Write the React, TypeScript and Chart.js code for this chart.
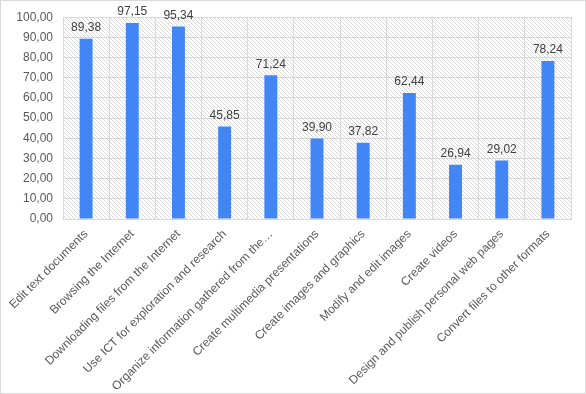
import React, { useEffect, useRef } from "react";
import { Chart, registerables } from "chart.js";

Chart.register(...registerables);

const categories = [
  "Edit text documents",
  "Browsing the Internet",
  "Downloading files from the Internet",
  "Use ICT for exploration and research",
  "Organize information gathered from the…",
  "Create multimedia presentations",
  "Create images and graphics",
  "Modify and edit images",
  "Create videos",
  "Design and publish personal web pages",
  "Convert files to other formats",
];
const values = [89.38, 97.15, 95.34, 45.85, 71.24, 39.9, 37.82, 62.44, 26.94, 29.02, 78.24];

const FONT = "'Liberation Sans', Arial, sans-serif";
const fmt = (v: number) => v.toFixed(2).replace(".", ",");

function makePattern(): CanvasPattern | string {
  const c = document.createElement("canvas");
  c.width = 4;
  c.height = 4;
  const g = c.getContext("2d");
  if (!g) return "#fff";
  g.fillStyle = "#ffffff";
  g.fillRect(0, 0, 4, 4);
  g.fillStyle = "#dadada";
  for (let i = 0; i < 4; i++) g.fillRect(i, i, 1, 1);
  const p = g.createPattern(c, "repeat");
  return p || "#fff";
}

export default function App() {
  const ref = useRef<HTMLCanvasElement>(null);
  useEffect(() => {
    document.body.style.margin = "0";
    const ctx = ref.current!.getContext("2d")!;
    const pattern = makePattern();
    const bgPlugin = {
      id: "bg",
      beforeDraw(chart: any) {
        const { ctx, chartArea: a, width, height } = chart;
        ctx.save();
        ctx.fillStyle = "#fff";
        ctx.fillRect(0, 0, width, height);
        ctx.fillStyle = pattern;
        ctx.fillRect(a.left, a.top, a.right - a.left, a.bottom - a.top);
        ctx.strokeStyle = "#d9d9d9";
        ctx.lineWidth = 1;
        ctx.strokeRect(0.5, 0.5, width - 1, height - 1);
        ctx.restore();
      },
    };
    const labelPlugin = {
      id: "labels",
      afterDatasetsDraw(chart: any) {
        const { ctx } = chart;
        const meta = chart.getDatasetMeta(0);
        ctx.save();
        ctx.font = `12px ${FONT}`;
        ctx.fillStyle = "#404040";
        ctx.textAlign = "center";
        ctx.textBaseline = "bottom";
        meta.data.forEach((el: any, i: number) => {
          ctx.fillText(fmt(values[i]), el.x, el.y - 5);
        });
        ctx.restore();
      },
    };
    const chart = new Chart(ctx, {
      type: "bar",
      data: {
        labels: categories,
        datasets: [
          {
            data: values,
            backgroundColor: "#4285f4",
            barPercentage: 0.28,
            categoryPercentage: 1,
          },
        ],
      },
      options: {
        animation: false,
        responsive: false,
        maintainAspectRatio: false,
        layout: { padding: { top: 15, right: 15, left: 0, bottom: 0 } },
        plugins: { legend: { display: false }, tooltip: { enabled: false } },
        scales: {
          x: {
            grid: { color: "#d9d9d9", drawTicks: false, offset: true },
            border: { color: "#d9d9d9" },
            ticks: {
              color: "#595959",
              font: { family: FONT, size: 12 },
              maxRotation: 45,
              minRotation: 45,
              padding: 8,
              autoSkip: false,
            },
            afterFit(scale: any) {
              scale.height = 175;
            },
          },
          y: {
            min: 0,
            max: 100,
            grid: { color: "#d9d9d9", drawTicks: false },
            border: { color: "#d9d9d9" },
            ticks: {
              stepSize: 10,
              color: "#595959",
              font: { family: FONT, size: 12 },
              padding: 10,
              callback: (v: any) => fmt(Number(v)),
            },
            afterFit(scale: any) {
              scale.width = 63;
            },
          },
        },
      },
      plugins: [bgPlugin, labelPlugin],
    });
    return () => chart.destroy();
  }, []);
  return (
    <div style={{ position: "absolute", left: 0, top: 0, width: 586, height: 394 }}>
      <canvas ref={ref} width={586} height={394} style={{ width: 586, height: 394 }} />
    </div>
  );
}
